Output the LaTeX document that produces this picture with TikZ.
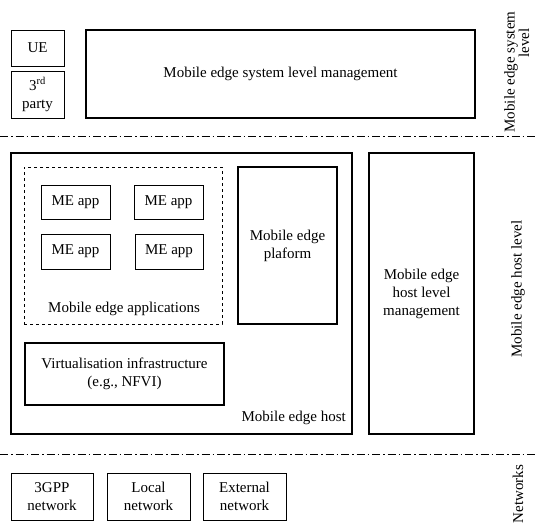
\documentclass[tikz,border=0pt]{standalone}
\usepackage{fontspec}
\setmainfont{Liberation Serif}
\begin{document}
\begin{tikzpicture}[x=1pt,y=-1pt,
  txt/.style={font=\fontsize{15}{18}\selectfont},
  thinbox/.style={txt,draw,line width=0.8pt,align=center,inner sep=0pt},
  thickbox/.style={txt,draw,line width=1.6pt,align=center,inner sep=0pt},
  lbl/.style={txt,inner sep=0pt},
  divider/.style={line width=0.8pt,dash pattern=on 8pt off 3pt on 1.5pt off 3pt}]
\useasboundingbox (0,0) rectangle (535,522);
% top level
\node[thinbox,minimum width=53,minimum height=36] (ue) at (37.5,48) {UE};
\node[thinbox,minimum width=53,minimum height=47] (tp) at (37.5,94.5) {3\textsuperscript{rd}\\party};
\node[thickbox,minimum width=389,minimum height=88] (sysm) at (280.5,74) {Mobile edge system level management};
\coordinate (d1a) at (0,136);
\coordinate (d1b) at (535,136);
\draw[divider] (d1a) -- (d1b);
% host level
\node[thickbox,minimum width=341,minimum height=281] (host) at (181.5,293.5) {};
\node[draw,dashed,line width=0.8pt,minimum width=198,minimum height=157,inner sep=0pt] (apps) at (123,245.5) {};
\node[thinbox,minimum width=69,minimum height=34] (a1) at (75.5,202) {ME app};
\node[thinbox,minimum width=69,minimum height=34] (a2) at (168.5,202) {ME app};
\node[thinbox,minimum width=69,minimum height=35] (a3) at (75.5,251.5) {ME app};
\node[thinbox,minimum width=68,minimum height=35] (a4) at (169,251.5) {ME app};
\node[lbl] (appsl) at (124,309) {Mobile edge applications};
\node[thickbox,minimum width=99,minimum height=157] (plat) at (287.5,245.5) {Mobile edge\\plaform};
\node[thickbox,minimum width=199,minimum height=62] (virt) at (124.5,374) {Virtualisation infrastructure\\(e.g., NFVI)};
\node[lbl,anchor=east] (hostl) at (346,418) {Mobile edge host};
\node[thickbox,minimum width=105,minimum height=281] (hlm) at (421.5,293.5) {Mobile edge\\host level\\management};
\coordinate (d2a) at (0,454);
\coordinate (d2b) at (535,454);
\draw[divider] (d2a) -- (d2b);
% networks
\node[thinbox,minimum width=82,minimum height=47] (n1) at (52,496.5) {3GPP\\network};
\node[thinbox,minimum width=83,minimum height=47] (n2) at (148.5,496.5) {Local\\network};
\node[thinbox,minimum width=83,minimum height=47] (n3) at (244.5,496.5) {External\\network};
% side labels
\node[lbl,rotate=90] (sl1a) at (511,72) {Mobile edge system};
\node[lbl,rotate=90] (sl1b) at (524,43) {level};
\node[lbl,rotate=90] (sl2) at (518,289) {Mobile edge host level};
\node[lbl,rotate=90] (sl3) at (518,494) {Networks};
\end{tikzpicture}
\end{document}
